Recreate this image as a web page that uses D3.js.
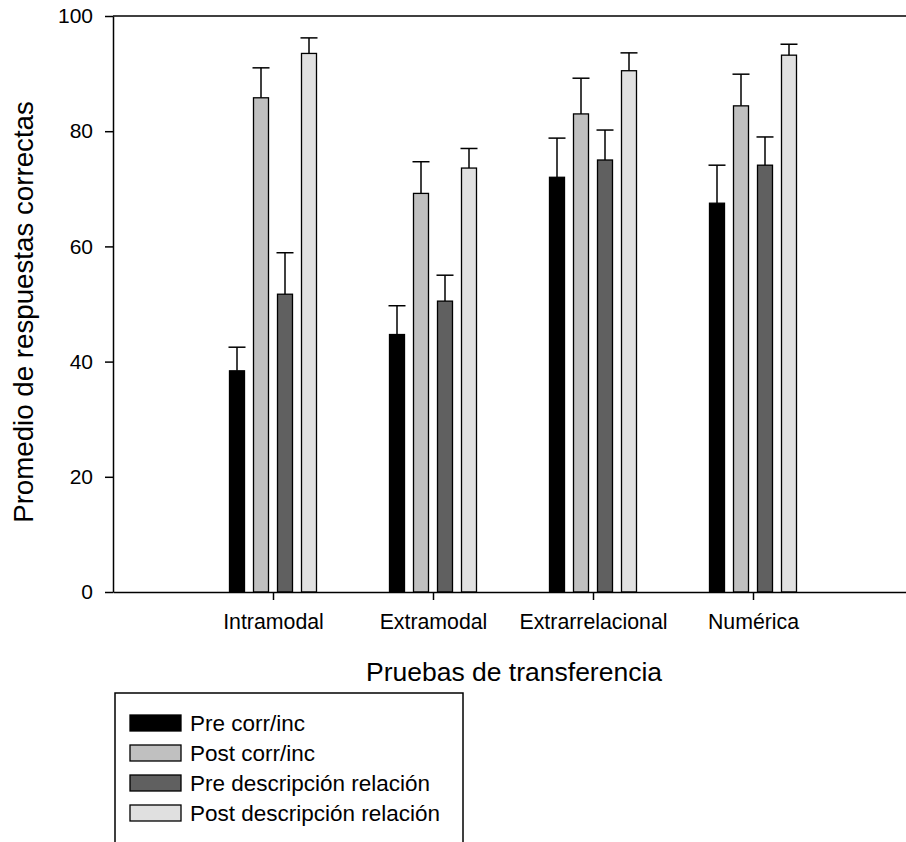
<!doctype html>
<head>
  <meta charset="utf-8">
  <script src="https://cdnjs.cloudflare.com/ajax/libs/d3/7.8.2/d3.min.js"></script>
</head>
<style>
    body { margin: 0; background: white; }
    svg { display: block; font-family: "Liberation Sans", Arial, sans-serif; }
</style>
<body>
    <div id="chart"></div>
    <script>
        // Datos
        const categories = ["Intramodal", "Extramodal", "Extrarrelacional", "Numérica"];
        const seriesNames = ["Pre corr/inc", "Post corr/inc", "Pre descripción relación", "Post descripción relación"];
        const seriesColors = ["#000000", "#c0c0c0", "#606060", "#e0e0e0"];

        const preCorr = [38.4, 44.7, 72.0, 67.5];
        const postCorr = [85.8, 69.2, 83.0, 84.4];
        const preDesc = [51.7, 50.5, 75.0, 74.1];
        const postDesc = [93.5, 73.6, 90.5, 93.2];

        const preCorrErr = [4.1, 5.0, 6.8, 6.6];
        const postCorrErr = [5.2, 5.5, 6.2, 5.5];
        const preDescErr = [7.2, 4.5, 5.2, 4.9];
        const postDescErr = [2.7, 3.4, 3.1, 1.9];

        const yTicks = [0, 20, 40, 60, 80, 100];

        const values = [preCorr, postCorr, preDesc, postDesc];
        const errors = [preCorrErr, postCorrErr, preDescErr, postDescErr];

        const rows = [];
        seriesNames.forEach((s, si) => {
            categories.forEach((c, ci) => {
                rows.push({serie: s, si: si, cat: c, ci: ci, value: values[si][ci], err: errors[si][ci]});
            });
        });

        const width = 906, height = 842;
        const svg = d3.select('#chart').append('svg')
            .attr('width', width)
            .attr('height', height);

        // Escalas
        const x = d3.scaleLinear().domain([0, 5]).range([113, 913]);
        const y = d3.scaleLinear().domain([0, 100]).range([592, 16]);
        const inner = d3.scaleBand().domain(seriesNames).range([-43.5, 43.5])
            .paddingInner(0.375).paddingOuter(0);

        // Marco superior
        svg.append('line')
            .attr('x1', x(0)).attr('x2', x(5))
            .attr('y1', y(100)).attr('y2', y(100))
            .attr('stroke', 'black').attr('stroke-width', 1.5);

        // Barras
        svg.append('g').selectAll('rect')
            .data(rows)
            .join('rect')
            .attr('x', d => x(d.ci + 1) + inner(d.serie))
            .attr('width', inner.bandwidth())
            .attr('y', d => y(d.value))
            .attr('height', d => y(0) - y(d.value))
            .attr('fill', d => seriesColors[d.si])
            .attr('stroke', 'black')
            .attr('stroke-width', 1.3);

        // Barras de error (solo hacia arriba)
        const eb = svg.append('g').attr('stroke', 'black').attr('stroke-width', 1.5);
        eb.selectAll('.v')
            .data(rows)
            .join('line')
            .attr('x1', d => x(d.ci + 1) + inner(d.serie) + inner.bandwidth() / 2)
            .attr('x2', d => x(d.ci + 1) + inner(d.serie) + inner.bandwidth() / 2)
            .attr('y1', d => y(d.value))
            .attr('y2', d => y(d.value + d.err));
        eb.selectAll('.cap')
            .data(rows)
            .join('line')
            .attr('x1', d => x(d.ci + 1) + inner(d.serie) + inner.bandwidth() / 2 - 8.5)
            .attr('x2', d => x(d.ci + 1) + inner(d.serie) + inner.bandwidth() / 2 + 8.5)
            .attr('y1', d => y(d.value + d.err))
            .attr('y2', d => y(d.value + d.err));

        // Eje Y
        const yAxis = svg.append('g')
            .attr('transform', `translate(${x(0)},0)`)
            .call(d3.axisLeft(y).tickValues(yTicks).tickSize(8).tickPadding(12).tickSizeOuter(0));
        yAxis.selectAll('path, line').attr('stroke', 'black').attr('stroke-width', 1.5);
        yAxis.selectAll('text').attr('font-size', 21).attr('fill', 'black')
            .attr('font-family', '"Liberation Sans", Arial, sans-serif');

        // Eje X
        const xAxis = svg.append('g')
            .attr('transform', `translate(0,${y(0)})`)
            .call(d3.axisBottom(x).tickValues([1, 2, 3, 4])
                .tickFormat(d => categories[d - 1]).tickSize(8).tickPadding(14).tickSizeOuter(0));
        xAxis.selectAll('path, line').attr('stroke', 'black').attr('stroke-width', 1.5);
        xAxis.selectAll('text').attr('font-size', 21.3).attr('fill', 'black')
            .attr('font-family', '"Liberation Sans", Arial, sans-serif');

        // Títulos
        svg.append('text')
            .attr('x', 514).attr('y', 681)
            .attr('text-anchor', 'middle')
            .attr('font-size', 26.5)
            .text('Pruebas de transferencia');

        svg.append('text')
            .attr('transform', 'translate(33,312) rotate(-90)')
            .attr('text-anchor', 'middle')
            .attr('font-size', 27.7)
            .text('Promedio de respuestas correctas');

        // Leyenda
        const legend = svg.append('g');
        legend.append('rect')
            .attr('x', 115).attr('y', 693)
            .attr('width', 348).attr('height', 200)
            .attr('fill', 'none').attr('stroke', 'black').attr('stroke-width', 1.5);

        const item = legend.selectAll('.item')
            .data(seriesNames)
            .join('g')
            .attr('transform', (d, i) => `translate(130,${723 + i * 30})`);
        item.append('rect')
            .attr('x', 0).attr('y', -8)
            .attr('width', 51).attr('height', 16)
            .attr('fill', (d, i) => seriesColors[i])
            .attr('stroke', 'black').attr('stroke-width', 1.3);
        item.append('text')
            .attr('x', 60).attr('y', 0)
            .attr('dy', '0.35em')
            .attr('font-size', 22.5)
            .text(d => d);
    </script>
</body>
